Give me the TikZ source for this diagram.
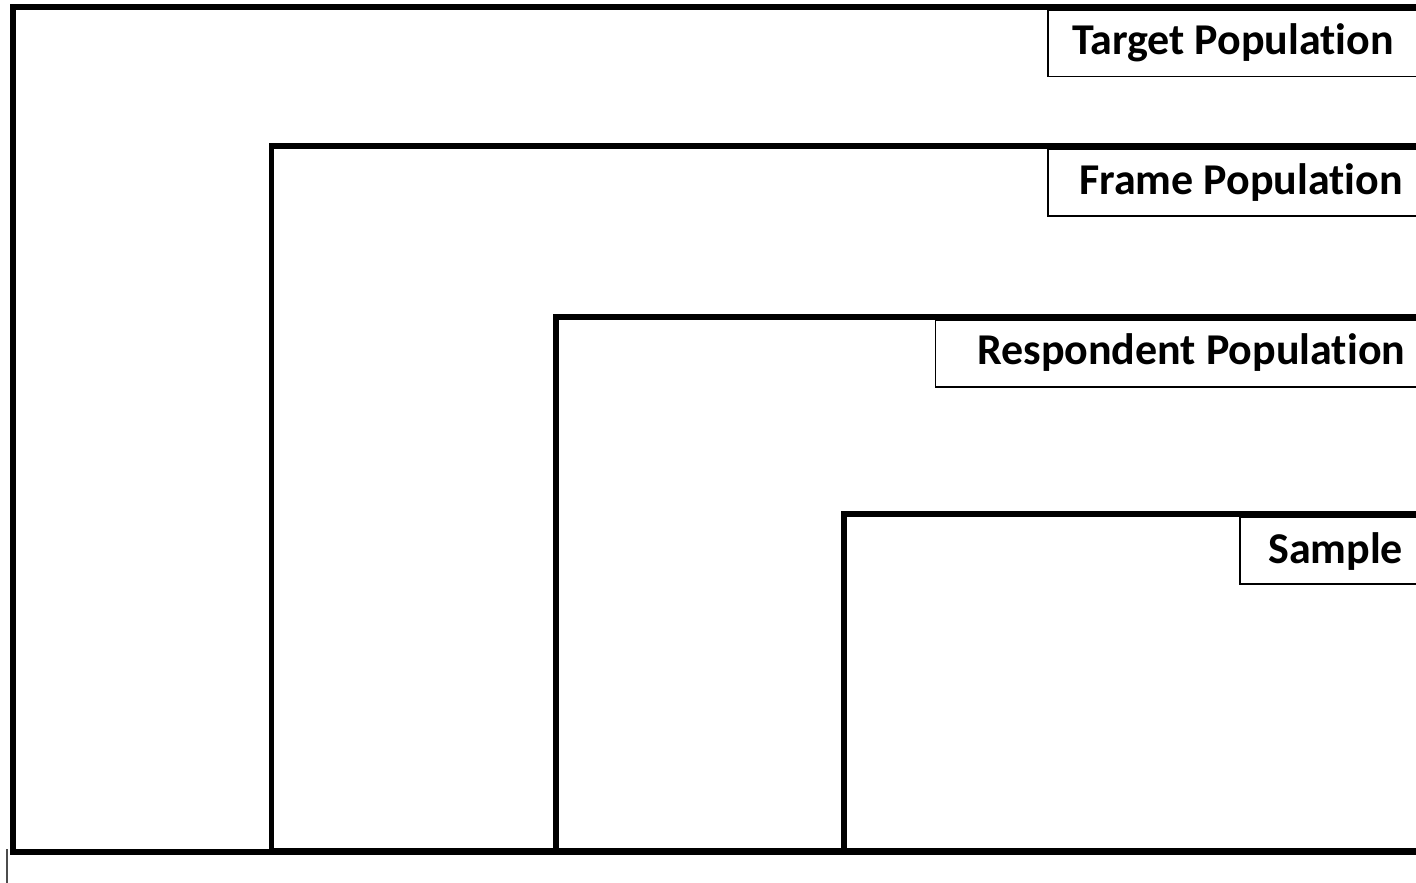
\documentclass[tikz,border=0pt]{standalone}
\usepackage{fontspec}
\setmainfont{Carlito}[Ligatures=NoCommon]
\begin{document}
\begin{tikzpicture}[x=1pt,y=-1pt,
  level/.style={draw=black, fill=white, line width=5.5pt, line join=miter},
  tagbox/.style={draw=black, fill=white, line width=1.3pt},
  tagtext/.style={font=\bfseries\fontsize{44}{44}\selectfont, anchor=base west, inner sep=0pt}]
\useasboundingbox (0,0) rectangle (1416,883);
\clip (0,0) rectangle (1416,883);
% nested populations, each running off the right edge
\draw[level] (13,7) rectangle (1450,852);
\draw[tagbox] (1048,10) rectangle (1450,76.5);
\node[tagtext] (target) at (1072,55) {Target Population};

\draw[level] (271.5,146) rectangle (1450,851);
\draw[tagbox] (1048,149) rectangle (1450,216);
\node[tagtext] (frame) at (1079,194) {Frame Population};

\draw[level] (556,317) rectangle (1450,851);
\draw[tagbox] (935.5,320) rectangle (1450,387);
\node[tagtext] (resp) at (977,364) {Respondent Population};

\draw[level] (844,514) rectangle (1450,851);
\draw[tagbox] (1240,517) rectangle (1450,584);
\node[tagtext] (sample) at (1268,563) {Sample};

% small cursor mark below the frame
\draw[line width=1.3pt, black!70] (7,849) -- (7,883);
\end{tikzpicture}
\end{document}
